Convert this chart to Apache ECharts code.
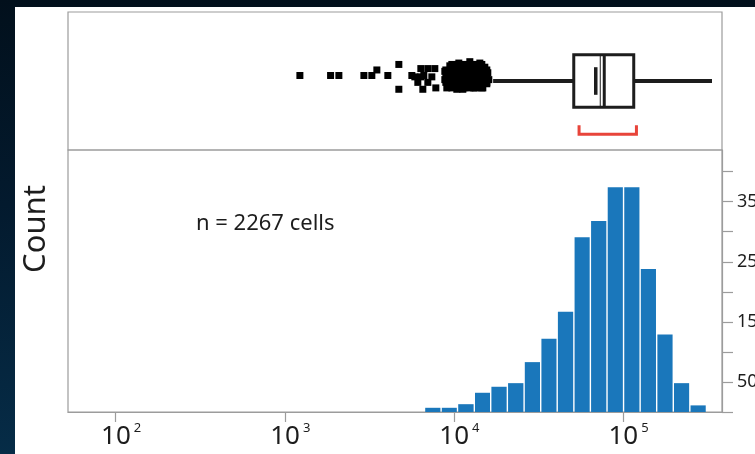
<!DOCTYPE html>
<html>
<head>
<meta charset="utf-8">
<script src="https://cdn.jsdelivr.net/npm/echarts@6/dist/echarts.min.js"></script>
<style>
  html, body { margin: 0; padding: 0; }
  #stage {
    position: relative; width: 755px; height: 454px; overflow: hidden;
    background: linear-gradient(to bottom, #02101c 0%, #031a2e 45%, #062c47 100%);
  }
  #panel { position: absolute; left: 15px; top: 7px; right: 0; bottom: 0; background: #ffffff; }
  #chart { position: absolute; left: 0; top: 0; width: 755px; height: 454px; }
</style>
</head>
<body>
<div id="stage"><div id="panel"></div><div id="chart"></div></div>
<script>
// Histogram of per-cell intensity: bin edges (intensity units) and counts
const binEdges = [6700, 8400, 10500, 13200, 16500, 20700, 26000, 32600, 40800, 51200,
                  64100, 80400, 100700, 126200, 158100, 198200, 248300, 311200];
const binCounts = [7, 7, 13, 32, 42, 48, 83, 122, 167, 291, 318, 374, 374, 238, 129, 48, 11];

// Box plot summary (intensity units)
const whiskers = [17050, 335700];
const quartiles = [51120, 77420, 115670];   // Q1, median, Q3
const meanValue = 68970;
const innerLine = 73330;
const bracketRange = [54950, 120000];

// Points beyond the lower whisker, with their vertical jitter (0..1 across the strip)
const outlierValues = [
  1228, 1865, 2088, 2935, 3271, 3502, 4067, 4724, 4724, 5639,
  5873, 6117, 6373, 6549, 6639, 7010, 7403, 7711, 7816, 6373, 7010,
  8835, 8835, 9078, 9458, 9588, 9719, 10123, 10261, 10402, 10544, 10689, 10837,
  11135, 11288, 11599, 11758, 11920, 12083, 12417, 12587, 12760, 13111, 13291,
  13473, 13657, 13845, 14229, 14424, 14621, 14821, 15229, 15437, 15648, 15862, 16079,
  8957, 8957, 8957,
  9719, 9719, 9719, 9719, 9719,
  10544, 10544, 10544, 10544, 10544,
  11443, 11443, 11443, 11443, 11443,
  12417, 12417, 12417, 12417, 12417,
  13473, 13473, 13473, 13473, 13473,
  14621, 14621, 14621, 14621, 14621,
  15648, 15648, 15648
];
const outlierJitter = [
  0.54, 0.54, 0.54, 0.54, 0.54, 0.58, 0.54, 0.62, 0.44, 0.54,
  0.53, 0.49, 0.59, 0.44, 0.54, 0.59, 0.53, 0.59, 0.45, 0.53, 0.49,
  0.57, 0.51, 0.45, 0.61, 0.54, 0.48, 0.58, 0.51, 0.44, 0.46, 0.63, 0.55,
  0.49, 0.44, 0.60, 0.53, 0.56, 0.47, 0.64, 0.57, 0.51, 0.45, 0.49,
  0.61, 0.54, 0.48, 0.63, 0.57, 0.51, 0.45, 0.60, 0.54, 0.48, 0.56, 0.51,
  0.58, 0.54, 0.49,
  0.62, 0.58, 0.54, 0.49, 0.45,
  0.62, 0.58, 0.54, 0.49, 0.45,
  0.62, 0.58, 0.54, 0.49, 0.45,
  0.62, 0.58, 0.54, 0.49, 0.45,
  0.62, 0.58, 0.54, 0.49, 0.45,
  0.62, 0.58, 0.54, 0.49, 0.45,
  0.58, 0.54, 0.49
];

// Axis ticks
const xTickValues = [100, 1000, 10000, 100000];
const xTickExponents = ['2', '3', '4', '5'];
const countTicks = [0, 50, 100, 150, 200, 250, 300, 350, 400];
const countLabels = [50, 150, 250, 350];

const FONT = '"Noto Sans", "Open Sans", sans-serif';
const INK = '#1d1d1d';
const FRAME = '#9c9c9c';
const X_MIN = 52.25, X_MAX = 384700;

const chart = echarts.init(document.getElementById('chart'), null, { renderer: 'canvas' });

const histData = binCounts.map((c, i) => [binEdges[i], binEdges[i + 1], c]);
const outlierData = outlierValues.map((v, i) => [v, outlierJitter[i]]);

function renderBins(params, api) {
  const lo = api.coord([api.value(0), api.value(2)]);
  const hi = api.coord([api.value(1), 0]);
  return {
    type: 'rect',
    shape: { x: lo[0] + 0.7, y: lo[1], width: hi[0] - lo[0] - 1.4, height: hi[1] - lo[1] },
    style: { fill: '#1a77bb' }
  };
}

function renderBox(params, api) {
  const y = v => api.coord([X_MIN, v])[1];
  const x = v => api.coord([v, 0.5])[0];
  const yc = y(0.5), yt = y(0.69), yb = y(0.31);
  const line = (x1, y1, x2, y2, w, color) => ({
    type: 'line', shape: { x1, y1, x2, y2 },
    style: { stroke: color || INK, lineWidth: w, lineCap: 'butt' }
  });
  const q1 = x(quartiles[0]), med = x(quartiles[1]), q3 = x(quartiles[2]);
  const bL = x(bracketRange[0]), bR = x(bracketRange[1]);
  const by = y(0.115), byTop = y(0.18);
  return {
    type: 'group',
    children: [
      line(x(whiskers[0]), yc, q1, yc, 4),
      line(q3, yc, x(whiskers[1]), yc, 4),
      { type: 'rect', shape: { x: q1, y: yt, width: q3 - q1, height: yb - yt },
        style: { fill: '#fff', stroke: INK, lineWidth: 3 } },
      line(x(meanValue), y(0.6), x(meanValue), y(0.4), 3.5),
      line(x(innerLine), yt, x(innerLine), yb, 1),
      line(med, yt, med, yb, 3),
      { type: 'polyline', shape: { points: [[bL, byTop], [bL, by], [bR, by], [bR, byTop]] },
        style: { stroke: '#e8443a', lineWidth: 3, fill: null } }
    ]
  };
}

const option = {
  backgroundColor: 'transparent',
  animation: false,
  textStyle: { fontFamily: FONT },
  grid: [
    { left: 68, right: 33, top: 12, height: 138, show: true, borderColor: FRAME, borderWidth: 1.2,
      containLabel: false, outerBoundsMode: 'none' },
    { left: 68, right: 33, top: 150, bottom: 42, show: true, borderColor: FRAME, borderWidth: 1.2,
      containLabel: false, outerBoundsMode: 'none' }
  ],
  xAxis: [
    { gridIndex: 0, type: 'log', logBase: 10, min: X_MIN, max: X_MAX, show: false },
    {
      gridIndex: 1, type: 'log', logBase: 10, min: X_MIN, max: X_MAX,
      axisLine: { lineStyle: { color: FRAME, width: 1.2 } },
      axisTick: { show: true, length: 10, lineStyle: { color: FRAME, width: 1.2 }, customValues: xTickValues },
      splitLine: { show: false },
      axisLabel: {
        customValues: xTickValues,
        margin: 10,
        formatter: v => {
          const e = Math.round(Math.log10(v));
          const i = xTickValues.findIndex(t => Math.abs(Math.log10(t) - e) < 1e-6);
          return i < 0 ? '' : '{p|}{b|10}{s|' + xTickExponents[i] + '}';
        },
        rich: {
          p: { width: 11 },
          b: { fontSize: 26, color: INK, fontFamily: FONT },
          s: { fontSize: 13, color: INK, fontFamily: FONT, padding: [0, 0, 17, 3] }
        }
      }
    }
  ],
  yAxis: [
    { gridIndex: 0, type: 'value', min: 0, max: 1, show: false },
    {
      gridIndex: 1, type: 'value', position: 'right', min: 0, max: 436,
      axisLine: { show: true, lineStyle: { color: FRAME, width: 1.2 } },
      axisTick: { show: true, inside: false, length: 11, lineStyle: { color: FRAME, width: 1.2 }, customValues: countTicks },
      axisLabel: { customValues: countLabels, fontSize: 18, color: INK, margin: 15, fontFamily: FONT },
      splitLine: { show: false }
    }
  ],
  graphic: [
    { type: 'text', x: 36, y: 229, rotation: Math.PI / 2,
      style: { text: 'Count', font: '31px ' + FONT, fill: INK, align: 'center', verticalAlign: 'middle' } },
    { type: 'text', x: 196, y: 224,
      style: { text: 'n = 2267 cells', font: '22px ' + FONT, fill: INK, align: 'left', verticalAlign: 'middle' } }
  ],
  series: [
    { type: 'custom', xAxisIndex: 1, yAxisIndex: 1, renderItem: renderBins, data: histData, encode: { x: [0, 1], y: 2 } },
    { type: 'custom', xAxisIndex: 0, yAxisIndex: 0, renderItem: renderBox, data: [[quartiles[1], 0.5]], encode: { x: 0, y: 1 }, z: 3 },
    { type: 'scatter', xAxisIndex: 0, yAxisIndex: 0, data: outlierData, symbol: 'rect', symbolSize: 7,
      itemStyle: { color: '#000', opacity: 1 }, z: 4 }
  ]
};

chart.setOption(option);
</script>
</body>
</html>
